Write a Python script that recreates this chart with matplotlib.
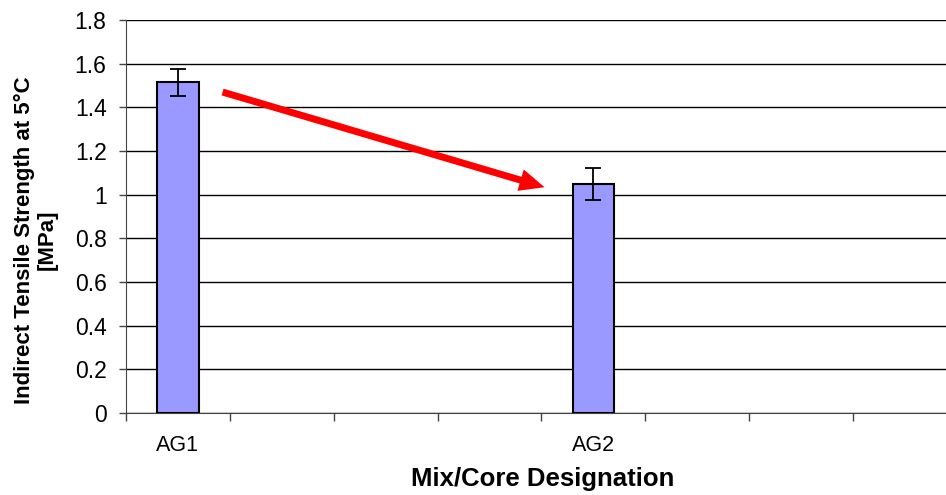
import numpy as np
import matplotlib
matplotlib.use("Agg")
import matplotlib.pyplot as plt

plt.rcParams["font.family"] = ["Liberation Sans", "DejaVu Sans"]

# category slots on the x axis (only two carry data)
slots = ["AG1", "", "", "", "AG2", "", "", ""]
mixes = ["AG1", "AG2"]
strength = [1.515, 1.049]
strength_err = [0.061, 0.074]

# red trend arrow, data coordinates (x slot, MPa)
arrow_start = (0.43, 1.47)
arrow_end = (3.53, 1.034)

fig = plt.figure(figsize=(9.46, 4.95), dpi=100)
ax = fig.add_axes([0.1332, 0.1657, 0.8668, 0.7939])

xpos = [slots.index(m) for m in mixes]
ax.bar(xpos, strength, width=0.40, color="#9999FF", edgecolor="black", linewidth=1.5, zorder=3)
ax.errorbar(xpos, strength, yerr=strength_err, fmt="none", ecolor="black",
            elinewidth=1.3, capsize=5.5, capthick=1.3, zorder=4)

ax.annotate("", xy=arrow_end, xytext=arrow_start,
            arrowprops=dict(arrowstyle="simple,tail_width=0.5,head_width=1.6,head_length=1.8",
                            mutation_scale=10, color="#FF0000", lw=0,
                            shrinkA=0, shrinkB=0),
            zorder=5)

ax.set_xlim(-0.485, 7.395)
ax.set_ylim(0, 1.8)
ax.set_yticks(np.arange(0, 1.81, 0.2))
ax.set_yticklabels(["0", "0.2", "0.4", "0.6", "0.8", "1", "1.2", "1.4", "1.6", "1.8"])
ax.yaxis.grid(True, color="black", linewidth=1.0)
ax.set_axisbelow(True)

ax.set_xticks(xpos)
ax.set_xticklabels(mixes)
ax.tick_params(axis="x", length=0, labelsize=15.5, pad=16)
ax.set_xticks(np.arange(-0.5, 7.5, 1.0), minor=True)
ax.tick_params(axis="x", which="minor", length=6, width=1, color="#444444")
ax.tick_params(axis="y", length=5, width=1, labelsize=16.5, color="#444444", pad=9)

for s in ["top", "right"]:
    ax.spines[s].set_visible(False)
ax.spines["left"].set_color("#444444")
ax.spines["bottom"].set_color("#444444")

ax.set_xlabel("Mix/Core Designation", fontsize=18.5, fontweight="bold")
ax.xaxis.set_label_coords(0.508, -0.137)
fig.text(36 / 946, 1 - 240 / 495, "Indirect Tensile Strength at 5°C\n[MPa]",
         rotation=90, ha="center", va="center", multialignment="center",
         fontsize=16, fontweight="bold", linespacing=1.15)

fig.savefig("out.png", dpi=100)
